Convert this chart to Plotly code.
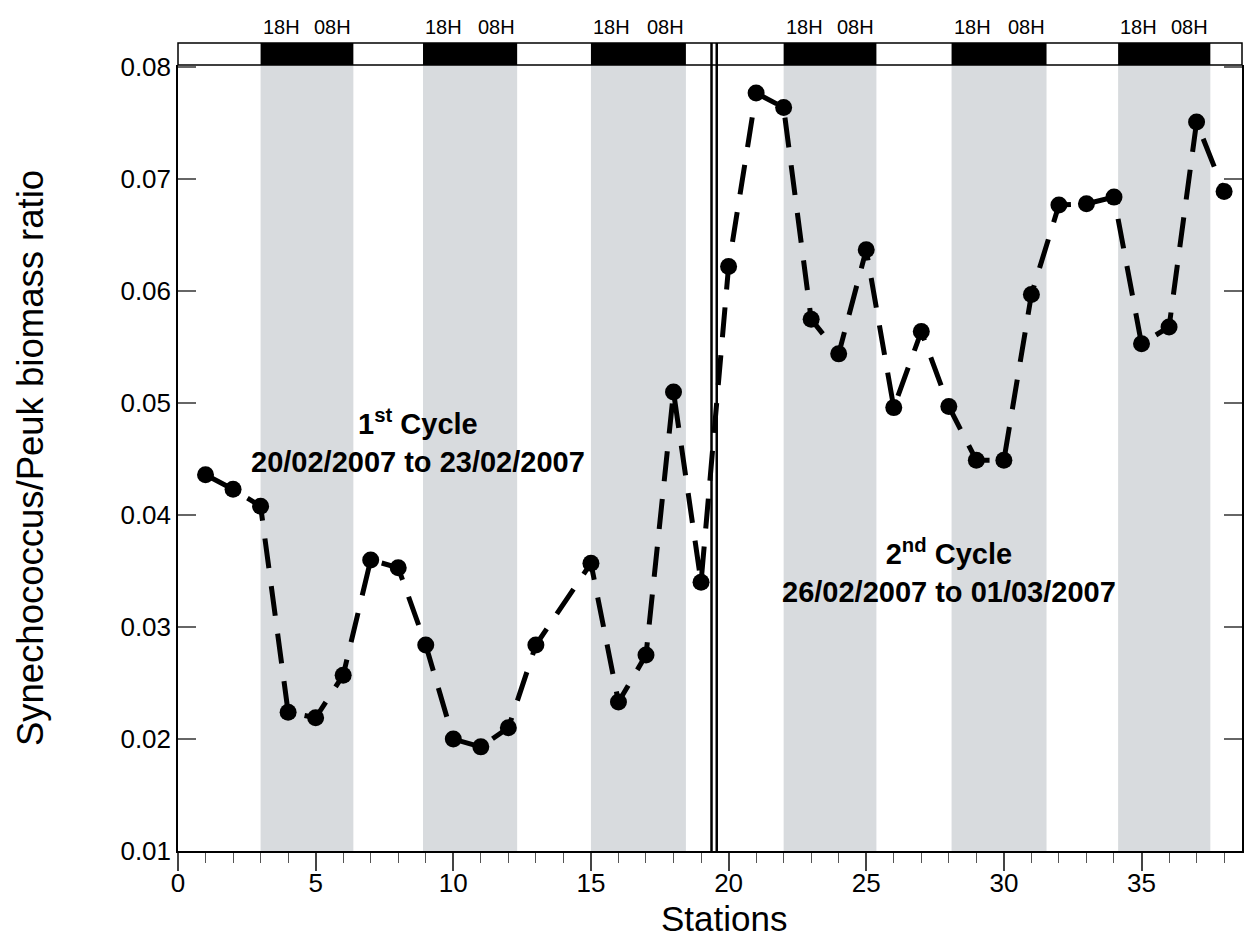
import plotly.graph_objects as go

# Station numbers (station 14 was not sampled)
stations = [1, 2, 3, 4, 5, 6, 7, 8, 9, 10, 11, 12, 13,
            15, 16, 17, 18, 19, 20, 21, 22, 23, 24, 25, 26, 27, 28,
            29, 30, 31, 32, 33, 34, 35, 36, 37, 38]
ratio = [0.0436, 0.0423, 0.0408, 0.0224, 0.0219, 0.0257, 0.0360, 0.0353,
         0.0284, 0.0200, 0.0193, 0.0210, 0.0284,
         0.0357, 0.0233, 0.0275, 0.0510, 0.0340, 0.0622, 0.0777, 0.0764,
         0.0575, 0.0544, 0.0637, 0.0496, 0.0564, 0.0497, 0.0449, 0.0449,
         0.0597, 0.0677, 0.0678, 0.0684, 0.0553, 0.0568, 0.0751, 0.0689]

# Night periods (18H -> 08H) expressed on the station axis
night_start = [3.0, 8.9, 15.0, 22.0, 28.1, 34.15]
night_end = [6.37, 12.32, 18.45, 25.37, 31.55, 37.5]
night_labels = ["18H", "08H"]

# Separation between the two sampling cycles
cycle_break = [19.38, 19.57]

x_range = [0, 38.65]
y_range = [0.01, 0.0802]
y_ticks = [0.01, 0.02, 0.03, 0.04, 0.05, 0.06, 0.07, 0.08]
x_ticks = [0, 5, 10, 15, 20, 25, 30, 35]

FONT = "Arial, Liberation Sans, sans-serif"
MAIN_TOP = 786 / 808  # top of data area in paper units; header strip above

fig = go.Figure()

fig.add_trace(go.Scatter(
    x=stations, y=ratio, mode="lines+markers",
    line=dict(color="black", width=5, dash="30px,18px"),
    marker=dict(color="black", size=17, symbol="circle"),
    showlegend=False, hoverinfo="x+y",
))

shapes = []
annotations = []
for s, e in zip(night_start, night_end):
    # shaded night band in the data area
    shapes.append(dict(type="rect", xref="x", yref="paper", x0=s, x1=e,
                       y0=0, y1=MAIN_TOP, fillcolor="#d8dbde",
                       line=dict(width=0), layer="below"))
    # black night bar in the header strip
    shapes.append(dict(type="rect", xref="x", yref="paper", x0=s, x1=e,
                       y0=MAIN_TOP, y1=1, fillcolor="black",
                       line=dict(width=0), layer="above"))
    annotations.append(dict(x=s, y=1, xref="x", yref="paper",
                            text=night_labels[0], showarrow=False,
                            xanchor="left", yanchor="bottom", yshift=3,
                            font=dict(family=FONT, size=20, color="black")))
    annotations.append(dict(x=e, y=1, xref="x", yref="paper",
                            text=night_labels[1], showarrow=False,
                            xanchor="right", yanchor="bottom", yshift=3,
                            font=dict(family=FONT, size=20, color="black")))

# header strip frame
shapes.append(dict(type="rect", xref="paper", yref="paper", x0=0, x1=1,
                   y0=MAIN_TOP, y1=1, line=dict(color="black", width=1.5),
                   fillcolor="rgba(0,0,0,0)", layer="above"))

for xb in cycle_break:
    shapes.append(dict(type="line", xref="x", yref="paper", x0=xb, x1=xb,
                       y0=0, y1=1, line=dict(color="black", width=2.5),
                       layer="above"))

annotations.append(dict(
    x=8.71, y=0.0466, xref="x", yref="y", showarrow=False,
    text="1<sup>st</sup> Cycle<br>20/02/2007 to 23/02/2007",
    font=dict(family=FONT, size=29, color="black", weight="bold"),
    xanchor="center", yanchor="middle", align="center"))
annotations.append(dict(
    x=28.0, y=0.0350, xref="x", yref="y", showarrow=False,
    text="2<sup>nd</sup> Cycle<br>26/02/2007 to 01/03/2007",
    font=dict(family=FONT, size=29, color="black", weight="bold"),
    xanchor="center", yanchor="middle", align="center"))

# axis titles
annotations.append(dict(
    x=0.513, y=-0.083, xref="paper", yref="paper", showarrow=False,
    text="Stations", font=dict(family=FONT, size=35, color="black"),
    xanchor="center", yanchor="middle"))
annotations.append(dict(
    x=-0.139, y=MAIN_TOP / 2, xref="paper", yref="paper", showarrow=False,
    text="Synechococcus/Peuk biomass ratio", textangle=-90,
    font=dict(family=FONT, size=36.5, color="black"),
    xanchor="center", yanchor="middle"))

fig.update_layout(
    width=1246, height=940,
    margin=dict(l=178, r=2, t=43, b=89),
    paper_bgcolor="white", plot_bgcolor="white",
    font=dict(family=FONT, color="black"),
    shapes=shapes, annotations=annotations,
    xaxis=dict(
        range=x_range, tickvals=x_ticks, ticks="outside", ticklen=18,
        tickwidth=1.5, tickcolor="#444", showline=True, linecolor="black",
        linewidth=1.5, showgrid=False, zeroline=False,
        ticklabelstandoff=-10,
        tickfont=dict(family=FONT, size=26, color="black"),
        minor=dict(dtick=1, ticks="outside", ticklen=10, tickwidth=1.2,
                   tickcolor="#555", showgrid=False),
    ),
    yaxis=dict(
        range=y_range, domain=[0, MAIN_TOP], tickvals=y_ticks,
        tickformat=".2f", ticks="inside", ticklen=18, tickwidth=1.5,
        tickcolor="#666", showline=True, linecolor="black", linewidth=1.5,
        mirror="ticks", showgrid=False, zeroline=False,
        tickfont=dict(family=FONT, size=26, color="black"),
    ),
)

fig.write_html("out.html")
